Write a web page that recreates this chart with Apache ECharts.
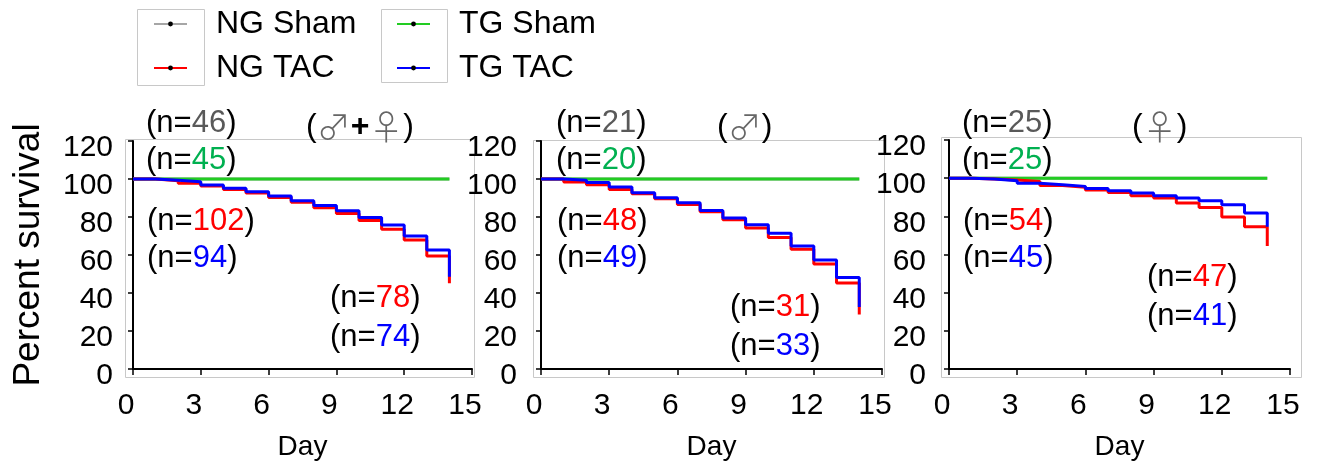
<!DOCTYPE html>
<html>
<head>
<meta charset="utf-8">
<script src="https://cdn.jsdelivr.net/npm/echarts@6/dist/echarts.min.js"></script>
<style>
  html, body { margin: 0; padding: 0; background: #fff; }
  #chart { width: 1321px; height: 465px; }
</style>
</head>
<body>
<div id="chart"></div>
<script>
  // days of follow-up, one step per day
  const days = [0, 1, 2, 3, 4, 5, 6, 7, 8, 9, 10, 11, 12, 13, 14];
  const shamDays = [0, 14];
  const xTicks = [0, 3, 6, 9, 12, 15];

  // (♂+♀)
  const ngShamAll = [100, 100];
  const tgShamAll = [100, 100];
  const ngTacAll = [100, 99.1, 97.7, 96.3, 94.5, 92.6, 90.3, 87.7, 84.9, 81.9, 78.1, 73.5, 67.9, 59.5, 45.1];
  const tgTacAll = [100, 99.3, 98.6, 96.8, 95.1, 93.3, 91.0, 88.6, 86.0, 83.3, 79.8, 75.8, 70.0, 62.6, 48.6];

  // (♂)
  const ngShamMale = [100, 100];
  const tgShamMale = [100, 100];
  const ngTacMale = [100, 98.4, 97.0, 94.5, 92.2, 89.6, 86.6, 82.7, 78.6, 74.2, 69.2, 63.0, 55.2, 45.3, 28.7];
  const tgTacMale = [100, 99.3, 98.1, 95.8, 92.8, 90.1, 87.5, 83.4, 79.5, 75.9, 71.5, 64.8, 57.4, 48.2, 32.6];

  // (♀)
  const ngShamFemale = [100, 100];
  const tgShamFemale = [100, 100];
  const ngTacFemale = [100, 99.6, 99.0, 98.2, 96.1, 95.2, 93.8, 92.5, 90.8, 89.6, 87.0, 84.6, 79.7, 74.5, 64.5];
  const tgTacFemale = [100, 99.6, 98.7, 97.3, 96.6, 95.7, 94.6, 93.4, 92.2, 90.8, 89.6, 88.2, 86.1, 81.7, 74.5];

  // group sizes printed on each panel: [ngSham, tgSham, ngTac, tgTac, ngTacEnd, tgTacEnd]
  const nAll = ['46', '45', '102', '94', '78', '74'];
  const nMale = ['21', '20', '48', '49', '31', '33'];
  const nFemale = ['25', '25', '54', '45', '47', '41'];

  const font = 'Liberation Sans, Arial, DejaVu Sans, sans-serif';
  const symFont = 'Noto Sans CJK SC, DejaVu Sans, sans-serif';
  const colors = { ngSham: '#a6a6a6', tgSham: '#22cc22', ngTac: '#ff0000', tgTac: '#0000ff' };

  function pts(xs, ys) {
    return xs.map((x, i) => [x, ys[i]]);
  }

  function lineSeries(name, color, idx, xs, ys) {
    return {
      name: name,
      type: 'line',
      step: 'end',
      xAxisIndex: idx,
      yAxisIndex: idx,
      data: pts(xs, ys),
      showSymbol: false,
      symbol: 'circle',
      symbolSize: 4,
      itemStyle: { color: '#000' },
      lineStyle: { color: color, width: 3 },
      animation: false
    };
  }

  function panelSeries(idx, ngSham, tgSham, ngTac, tgTac) {
    return [
      lineSeries('NG Sham', colors.ngSham, idx, shamDays, ngSham),
      lineSeries('TG Sham', colors.tgSham, idx, shamDays, tgSham),
      lineSeries('NG TAC', colors.ngTac, idx, days, ngTac),
      lineSeries('TG TAC', colors.tgTac, idx, days, tgTac)
    ];
  }

  function xAxis(idx) {
    return {
      gridIndex: idx,
      type: 'value',
      min: xTicks[0],
      max: xTicks[xTicks.length - 1],
      interval: 3,
      name: 'Day',
      nameLocation: 'middle',
      nameGap: 64,
      nameTextStyle: { fontSize: 28, fontFamily: font, color: '#000' },
      axisLine: { show: true, onZero: false, lineStyle: { color: '#000', width: 2 } },
      axisTick: { show: true, length: 6, lineStyle: { color: '#000', width: 1.5 } },
      splitLine: { show: false },
      axisLabel: { fontSize: 30, fontFamily: font, color: '#000', margin: 22, padding: [0, 14, 0, 0] }
    };
  }

  function yAxis(idx, margin, name) {
    return {
      gridIndex: idx,
      type: 'value',
      min: 0,
      max: 120,
      interval: 20,
      name: name,
      nameLocation: 'middle',
      nameGap: 86,
      nameTextStyle: { fontSize: 37, fontFamily: font, color: '#000' },
      axisLine: { show: true, onZero: false, lineStyle: { color: '#000', width: 2 } },
      axisTick: { show: true, length: 5, lineStyle: { color: '#000', width: 1.5 } },
      splitLine: { show: false },
      axisLabel: { fontSize: 30, fontFamily: font, color: '#000', margin: margin, verticalAlign: 'top', lineHeight: 14 }
    };
  }

  function nText(x, y, n, color) {
    return {
      type: 'text',
      x: x,
      y: y,
      z: 100,
      style: {
        text: '{k|(n=}{v|' + n + '}{k|)}',
        verticalAlign: 'middle',
        rich: {
          k: { fontSize: 31, fontFamily: font, fill: '#000' },
          v: { fontSize: 31, fontFamily: font, fill: color }
        }
      }
    };
  }

  function sexText(x, y, parts) {
    return {
      type: 'text',
      x: x,
      y: y,
      z: 100,
      style: {
        text: parts,
        verticalAlign: 'middle',
        rich: {
          p: { fontSize: 32, fontFamily: font, fill: '#000' },
          s: { fontSize: 34, fontFamily: symFont, fontWeight: 300, fill: '#666' },
          b: { fontSize: 32, fontFamily: font, fill: '#000', fontWeight: 'bold' }
        }
      }
    };
  }

  function frame(x, y, w, h) {
    return { type: 'rect', z: -1, shape: { x: x, y: y, width: w, height: h }, style: { fill: 'none', stroke: '#c8c8c8', lineWidth: 1 } };
  }

  function panelTexts(x0, nums, xEnd, yEnd) {
    return [
      nText(x0, 123, nums[0], '#595959'),
      nText(x0, 160, nums[1], '#00b050'),
      nText(x0 + 1, 221, nums[2], '#ff0000'),
      nText(x0 + 1, 258, nums[3], '#0000ff'),
      nText(xEnd, yEnd, nums[4], '#ff0000'),
      nText(xEnd, yEnd + 39, nums[5], '#0000ff')
    ];
  }

  const chart = echarts.init(document.getElementById('chart'));
  chart.setOption({
    backgroundColor: '#fff',
    animation: false,
    legend: [
      {
        orient: 'vertical', left: 153, top: 7, padding: 0,
        itemWidth: 33, itemHeight: 6, itemGap: 10, selectedMode: false,
        textStyle: { fontSize: 32, fontFamily: font, color: '#000', lineHeight: 34, padding: [0, 0, 0, 24] },
        data: ['NG Sham', 'NG TAC']
      },
      {
        orient: 'vertical', left: 396, top: 7, padding: 0,
        itemWidth: 33, itemHeight: 6, itemGap: 10, selectedMode: false,
        textStyle: { fontSize: 32, fontFamily: font, color: '#000', lineHeight: 34, padding: [0, 0, 0, 24] },
        data: ['TG Sham', 'TG TAC']
      }
    ],
    grid: [
      { left: 133, top: 141, width: 339, height: 228 },
      { left: 541, top: 141, width: 341, height: 228 },
      { left: 949, top: 140, width: 341, height: 229 }
    ],
    xAxis: [xAxis(0), xAxis(1), xAxis(2)],
    yAxis: [yAxis(0, 20, 'Percent survival'), yAxis(1, 24, ''), yAxis(2, 23, '')],
    series: [].concat(
      panelSeries(0, ngShamAll, tgShamAll, ngTacAll, tgTacAll),
      panelSeries(1, ngShamMale, tgShamMale, ngTacMale, tgTacMale),
      panelSeries(2, ngShamFemale, tgShamFemale, ngTacFemale, tgTacFemale)
    ),
    graphic: [].concat(
      [
        frame(137.5, 9.5, 67, 76),
        frame(381.5, 9.5, 66, 73),
        frame(125.5, 139.5, 349, 238),
        frame(533.5, 140.5, 351, 237),
        frame(941.5, 137.5, 360, 240),
        sexText(306, 127, '{p|(}{s|♂}{b|+}{s|♀}{p|)}'),
        sexText(717, 127, '{p|(}{s|♂}{p|)}'),
        sexText(1132, 127, '{p|(}{s|♀}{p|)}')
      ],
      panelTexts(146, nAll, 330, 298),
      panelTexts(556, nMale, 730, 307),
      panelTexts(962, nFemale, 1147, 277)
    )
  });
</script>
</body>
</html>
